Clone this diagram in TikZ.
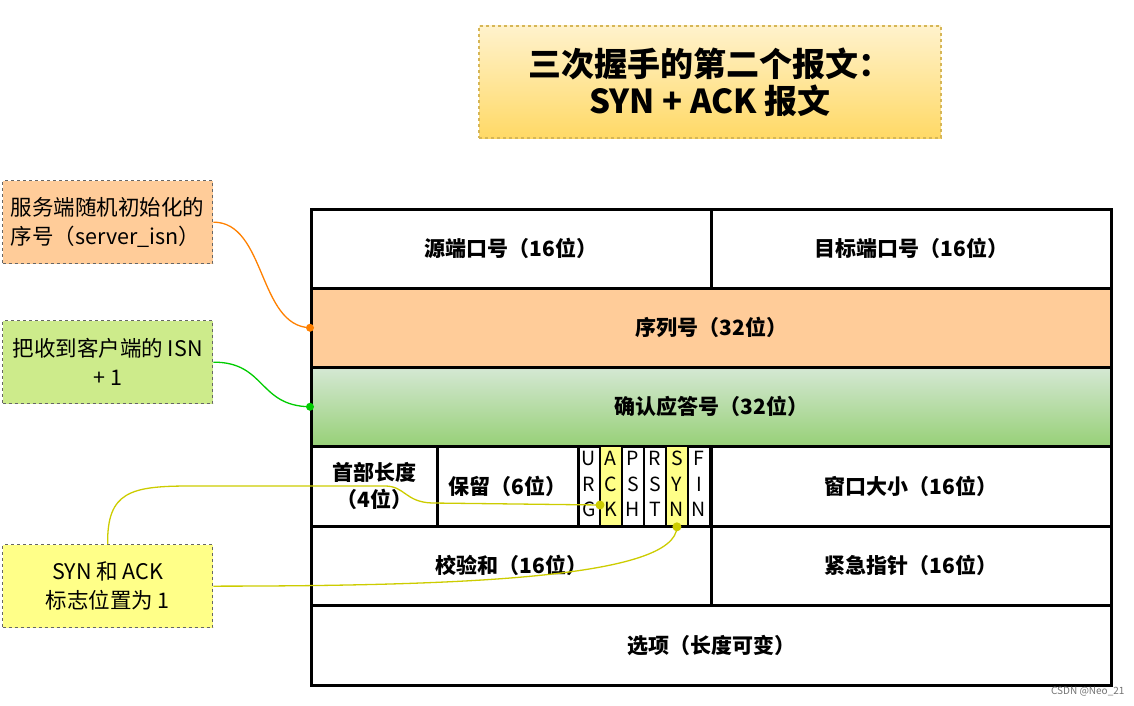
\documentclass[tikz,border=0pt]{standalone}
\usepackage{fontspec}
\setmainfont{Noto Sans CJK SC}
\definecolor{peach}{HTML}{FFCC99}
\definecolor{greenTop}{HTML}{D5E8D4}
\definecolor{greenBot}{HTML}{97D077}
\definecolor{noteGreen}{HTML}{CDEB8B}
\definecolor{noteYellow}{HTML}{FFFF88}
\definecolor{titleTop}{HTML}{FFF2CC}
\definecolor{titleBot}{HTML}{FFD966}
\definecolor{titleLine}{HTML}{D6B656}
\definecolor{lineOrange}{HTML}{FF8000}
\definecolor{lineGreen}{HTML}{00CC00}
\definecolor{lineYellow}{HTML}{CCCC00}
\newcommand\tabfont{\fontsize{21}{27}\selectfont\bfseries}
\newcommand\flagfont{\fontsize{19.5}{25.5}\selectfont}
\newcommand\notefont{\fontsize{21.5}{29}\selectfont}
\newcommand\titlefont{\fontsize{33}{37}\selectfont\bfseries}
\newcommand\flagtext[3]{\raisebox{-4pt}{\begin{tabular}{@{}c@{}}#1\\#2\\#3\end{tabular}}}
\tikzset{
  cell/.style={draw=black, line width=2.5pt, anchor=north west, inner sep=0pt, align=center, font=\tabfont, minimum height=79},
  flag/.style={draw=black, line width=1.8pt, anchor=north west, inner sep=0pt, align=center, font=\flagfont, minimum width=22, minimum height=80},
  note/.style={draw=black!60, dashed, line width=1.3pt, anchor=north west, inner sep=3pt, minimum width=210, minimum height=83, font=\notefont},
  link/.style={line width=1.3pt},
}
\begin{document}
\begin{tikzpicture}[x=1pt,y=-1pt]
\useasboundingbox (0,0) rectangle (1134,706);
% title
\node[draw=titleLine, dashed, line width=2pt, top color=titleTop, bottom color=titleBot,
      minimum width=462, minimum height=112, anchor=north west, align=center, font=\titlefont]
      (title) at (478,25) {三次握手的第二个报文：\\ SYN + ACK 报文};
% table
\node[cell, minimum width=400] (src) at (310,208) {源端口号（16位）};
\node[cell, minimum width=400] (dst) at (710,208) {目标端口号（16位）};
\node[cell, fill=peach, minimum width=800] (seq) at (310,287) {序列号（32位）};
\node[cell, top color=greenTop, bottom color=greenBot, minimum width=800] (ack) at (310,366) {确认应答号（32位）};
\node[cell, minimum width=126, minimum height=80] (hlen) at (310,445) {首部长度\\（4位）};
\node[cell, minimum width=141, minimum height=80] (resv) at (436,445) {保留（6位）};
\node[flag] (fU) at (577,445) {\flagtext URG};
\node[flag, fill=noteYellow] (fA) at (599,445) {\flagtext ACK};
\node[flag] (fP) at (621,445) {\flagtext PSH};
\node[flag] (fR) at (643,445) {\flagtext RST};
\node[flag, fill=noteYellow] (fS) at (665,445) {\flagtext SYN};
\node[flag] (fF) at (687,445) {\flagtext FIN};
\node[cell, minimum width=400, minimum height=80] (win) at (710,445) {窗口大小（16位）};
\node[cell, minimum width=400] (chk) at (310,525) {校验和（16位）};
\node[cell, minimum width=400] (urg) at (710,525) {紧急指针（16位）};
\node[cell, minimum width=800, minimum height=80] (opt) at (310,604) {选项（长度可变）};
% notes
\node[note, fill=peach, align=left] (n1) at (2,180) {服务端随机初始化的\\序号（server\_isn）};
\node[note, fill=noteGreen, align=center] (n2) at (2,320) {把收到客户端的 ISN\\+ 1};
\node[note, fill=noteYellow, align=center] (n3) at (2,544) {SYN 和 ACK\\标志位置为 1};
% connectors
\coordinate (ackdot) at (600,505);
\draw[link, lineOrange] (n1.east) .. controls (266,222) and (258,326) .. (seq.west);
\fill[lineOrange] (seq.west) circle (4);
\draw[link, lineGreen] (n2.east) .. controls (266,362) and (258,406) .. (ack.west);
\fill[lineGreen] (ack.west) circle (4);
\draw[link, lineYellow] (n3.north) .. controls (107,492) and (130,486) .. (190,486) -- (385,486)
   .. controls (405,486) and (405,502) .. (432,503) -- (ackdot);
\fill[lineYellow] (ackdot) circle (4.5);
\draw[link, lineYellow] (n3.east) .. controls (460,586) and (676,578) .. (fS.south);
\fill[lineYellow] (fS.south) circle (4.5);
% watermark
\node[font=\fontsize{10}{12}\selectfont, text=black!55, anchor=east] (wm) at (1128,692) {CSDN @Neo\_21};
\end{tikzpicture}
\end{document}
